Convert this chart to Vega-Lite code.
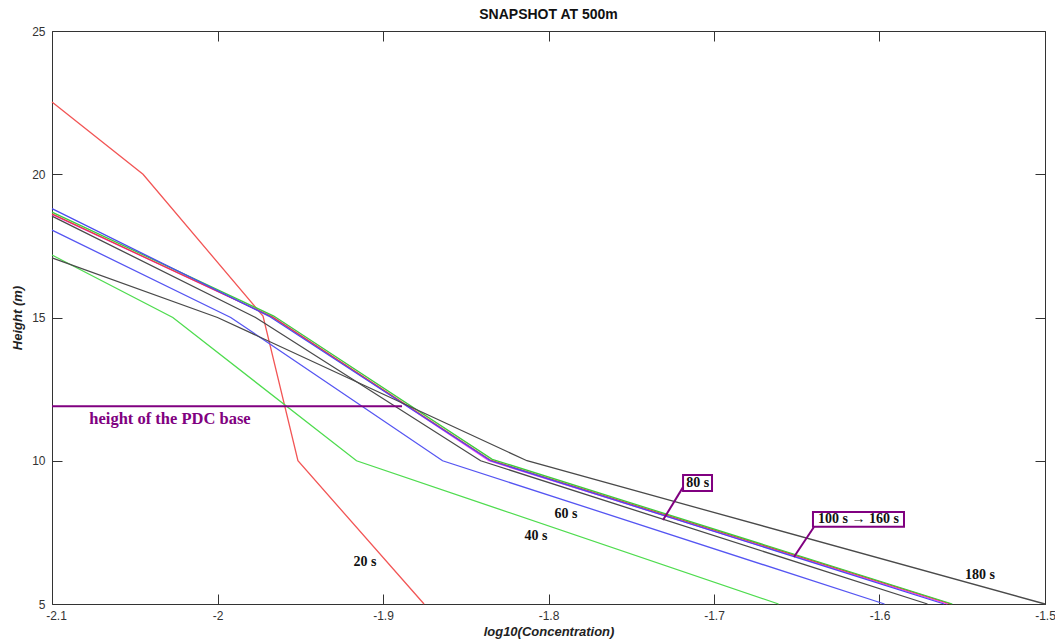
{
  "$schema": "https://vega.github.io/schema/vega-lite/v6.json",
  "width": 993,
  "height": 573,
  "autosize": {"type": "none"},
  "padding": {"left": 52, "top": 31, "right": 10, "bottom": 38},
  "background": "white",
  "config": {"view": {"stroke": "#333333", "strokeWidth": 1}, "font": "Liberation Sans"},
  "title": {"text": "SNAPSHOT AT 500m", "fontSize": 14, "fontWeight": "bold", "font": "Liberation Sans", "color": "#111111", "offset": 3},
  "datasets": {
    "curves": [
      {"series": "20 s", "i": 0, "x": -2.1, "y": 22.52},
      {"series": "20 s", "i": 1, "x": -2.045, "y": 20},
      {"series": "20 s", "i": 2, "x": -1.9725, "y": 15.05},
      {"series": "20 s", "i": 3, "x": -1.9514, "y": 10},
      {"series": "20 s", "i": 4, "x": -1.8752, "y": 5},
      {"series": "40 s", "i": 0, "x": -2.1, "y": 17.18},
      {"series": "40 s", "i": 1, "x": -2.027, "y": 15},
      {"series": "40 s", "i": 2, "x": -1.916, "y": 10},
      {"series": "40 s", "i": 3, "x": -1.661, "y": 5},
      {"series": "60 s", "i": 0, "x": -2.1, "y": 18.05},
      {"series": "60 s", "i": 1, "x": -1.992, "y": 15},
      {"series": "60 s", "i": 2, "x": -1.864, "y": 10},
      {"series": "60 s", "i": 3, "x": -1.597, "y": 5},
      {"series": "80 s", "i": 0, "x": -2.1, "y": 18.54},
      {"series": "80 s", "i": 1, "x": -1.977, "y": 15},
      {"series": "80 s", "i": 2, "x": -1.841, "y": 10},
      {"series": "80 s", "i": 3, "x": -1.571, "y": 5},
      {"series": "100 s", "i": 0, "x": -2.1, "y": 18.6},
      {"series": "100 s", "i": 1, "x": -1.966, "y": 15},
      {"series": "100 s", "i": 2, "x": -1.836, "y": 10},
      {"series": "100 s", "i": 3, "x": -1.559, "y": 5},
      {"series": "120 s", "i": 0, "x": -2.1, "y": 18.62},
      {"series": "120 s", "i": 1, "x": -1.967, "y": 15.02},
      {"series": "120 s", "i": 2, "x": -1.835, "y": 10.02},
      {"series": "120 s", "i": 3, "x": -1.557, "y": 5},
      {"series": "140 s", "i": 0, "x": -2.1, "y": 18.68},
      {"series": "140 s", "i": 1, "x": -1.966, "y": 15.05},
      {"series": "140 s", "i": 2, "x": -1.834, "y": 10.05},
      {"series": "140 s", "i": 3, "x": -1.556, "y": 5},
      {"series": "160 s", "i": 0, "x": -2.1, "y": 18.8},
      {"series": "160 s", "i": 1, "x": -1.969, "y": 15.05},
      {"series": "160 s", "i": 2, "x": -1.835, "y": 10.0},
      {"series": "160 s", "i": 3, "x": -1.561, "y": 5},
      {"series": "180 s", "i": 0, "x": -2.1, "y": 17.08},
      {"series": "180 s", "i": 1, "x": -2.0, "y": 15},
      {"series": "180 s", "i": 2, "x": -1.813, "y": 10},
      {"series": "180 s", "i": 3, "x": -1.5, "y": 5}
    ],
    "pdc": [{"x": -2.1, "x2": -1.8885, "y": 11.9}],
    "pointers": [
      {"x": -1.7187, "y": 9.08, "x2": -1.7308, "y2": 7.93},
      {"x": -1.6396, "y": 7.69, "x2": -1.6517, "y2": 6.64}
    ],
    "boxes": [
      {"x": -1.7187, "x2": -1.7012, "y": 9.503, "y2": 8.94},
      {"x": -1.6402, "x2": -1.5852, "y": 8.21, "y2": 7.70}
    ],
    "labels": [
      {"label": "20 s", "x": -1.9109, "y": 6.47},
      {"label": "40 s", "x": -1.8076, "y": 7.37},
      {"label": "60 s", "x": -1.7894, "y": 8.14},
      {"label": "80 s", "x": -1.7099, "y": 9.22},
      {"label": "100 s → 160 s", "x": -1.6127, "y": 7.955},
      {"label": "180 s", "x": -1.5393, "y": 6.01}
    ],
    "pdctext": [{"label": "height of the PDC base", "x": -2.0287, "y": 11.46}]
  },
  "resolve": {"axis": {"x": "independent", "y": "independent"}},
  "layer": [
    {
      "data": {"name": "curves"},
      "mark": {"type": "line", "strokeWidth": 1.3},
      "encoding": {
        "x": {
          "field": "x", "type": "quantitative",
          "scale": {"domain": [-2.1, -1.5], "nice": false, "zero": false},
          "axis": {
            "orient": "bottom", "values": [-2.1, -2, -1.9, -1.8, -1.7, -1.6, -1.5],
            "format": ".1~f", "labelExpr": "replace(datum.label, '−', '-')",
            "domain": false, "grid": false, "tickSize": -10, "tickColor": "#333333",
            "labelFont": "Liberation Sans", "labelFontSize": 12, "labelColor": "#333333",
            "labelPadding": 16, "labelFlush": false, "labelOverlap": false,
            "labelOffset": {"condition": {"test": "datum.value < -2.05", "value": 4}, "value": 0},
            "title": "log10(Concentration)", "titleFont": "Liberation Sans", "titleFontSize": 13,
            "titleFontStyle": "italic", "titleFontWeight": "bold", "titleColor": "#222222", "titlePadding": 4
          }
        },
        "y": {
          "field": "y", "type": "quantitative",
          "scale": {"domain": [5, 25], "nice": false, "zero": false},
          "axis": {
            "orient": "left", "values": [5, 10, 15, 20, 25],
            "domain": false, "grid": false, "tickSize": -10, "tickColor": "#333333",
            "labelFont": "Liberation Sans", "labelFontSize": 12, "labelColor": "#333333",
            "labelPadding": 17, "labelFlush": false, "labelOverlap": false,
            "title": "Height (m)", "titleFont": "Liberation Sans", "titleFontSize": 13,
            "titleFontStyle": "italic", "titleFontWeight": "bold", "titleColor": "#222222", "titlePadding": 7
          }
        },
        "color": {
          "field": "series", "type": "nominal",
          "scale": {
            "domain": ["20 s", "40 s", "60 s", "80 s", "100 s", "120 s", "140 s", "160 s", "180 s"],
            "range": ["#f25555", "#4fdc4f", "#5555f2", "#4a4a4a", "#ff33ff", "#e84040", "#3ccc3c", "#4b4bf0", "#4a4a4a"]
          },
          "legend": null
        },
        "order": {"field": "i", "type": "quantitative"}
      }
    },
    {
      "data": {"name": "pdc"},
      "mark": {"type": "rule", "color": "#800080", "strokeWidth": 2},
      "encoding": {
        "x": {
          "field": "x", "type": "quantitative",
          "scale": {"domain": [-2.1, -1.5], "nice": false, "zero": false},
          "axis": {
            "orient": "top", "values": [-2.1, -2, -1.9, -1.8, -1.7, -1.6, -1.5],
            "labels": false, "domain": false, "grid": false, "tickSize": -10, "tickColor": "#333333", "title": null
          }
        },
        "x2": {"field": "x2"},
        "y": {
          "field": "y", "type": "quantitative",
          "scale": {"domain": [5, 25], "nice": false, "zero": false},
          "axis": {
            "orient": "right", "values": [5, 10, 15, 20, 25],
            "labels": false, "domain": false, "grid": false, "tickSize": -10, "tickColor": "#333333", "title": null
          }
        }
      }
    },
    {
      "data": {"name": "pointers"},
      "mark": {"type": "rule", "color": "#800080", "strokeWidth": 2},
      "encoding": {
        "x": {"field": "x", "type": "quantitative", "scale": {"domain": [-2.1, -1.5], "nice": false, "zero": false}, "axis": null},
        "x2": {"field": "x2"},
        "y": {"field": "y", "type": "quantitative", "scale": {"domain": [5, 25], "nice": false, "zero": false}, "axis": null},
        "y2": {"field": "y2"}
      }
    },
    {
      "data": {"name": "boxes"},
      "mark": {"type": "rect", "fill": "white", "stroke": "#800080", "strokeWidth": 2},
      "encoding": {
        "x": {"field": "x", "type": "quantitative", "scale": {"domain": [-2.1, -1.5], "nice": false, "zero": false}, "axis": null},
        "x2": {"field": "x2"},
        "y": {"field": "y", "type": "quantitative", "scale": {"domain": [5, 25], "nice": false, "zero": false}, "axis": null},
        "y2": {"field": "y2"}
      }
    },
    {
      "data": {"name": "labels"},
      "mark": {"type": "text", "font": "Liberation Serif", "fontSize": 14, "fontWeight": "bold", "color": "#111111", "align": "center", "baseline": "middle"},
      "encoding": {
        "x": {"field": "x", "type": "quantitative", "scale": {"domain": [-2.1, -1.5], "nice": false, "zero": false}, "axis": null},
        "y": {"field": "y", "type": "quantitative", "scale": {"domain": [5, 25], "nice": false, "zero": false}, "axis": null},
        "text": {"field": "label"}
      }
    },
    {
      "data": {"name": "pdctext"},
      "mark": {"type": "text", "font": "Liberation Serif", "fontSize": 16.5, "fontWeight": "bold", "color": "#800080", "align": "center", "baseline": "middle"},
      "encoding": {
        "x": {"field": "x", "type": "quantitative", "scale": {"domain": [-2.1, -1.5], "nice": false, "zero": false}, "axis": null},
        "y": {"field": "y", "type": "quantitative", "scale": {"domain": [5, 25], "nice": false, "zero": false}, "axis": null},
        "text": {"field": "label"}
      }
    }
  ]
}
